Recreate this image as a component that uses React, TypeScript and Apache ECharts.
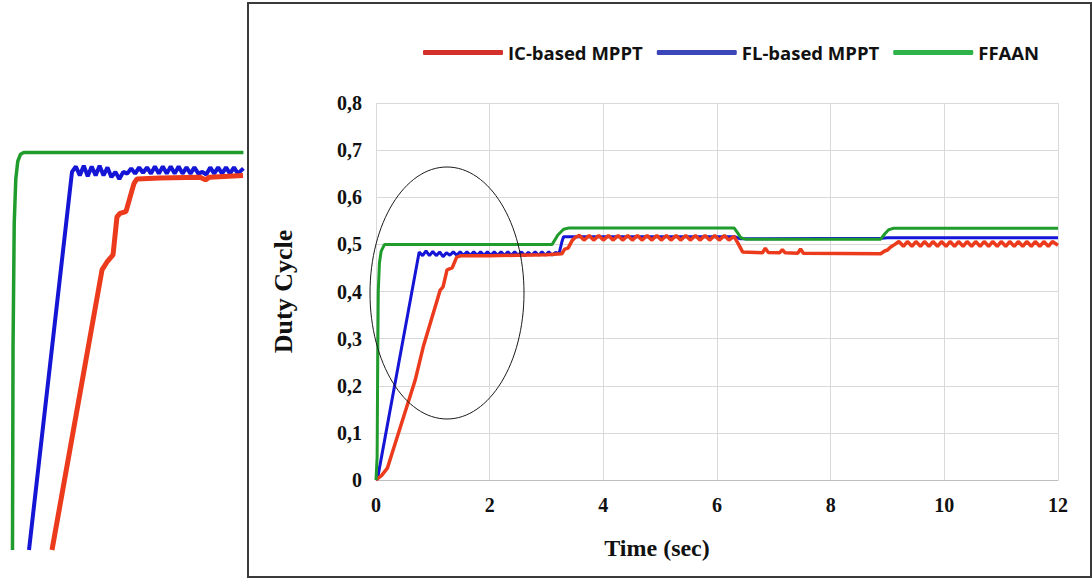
import React, { useEffect, useRef } from 'react';
import * as echarts from 'echarts';

const seriesNames = ['IC-based MPPT', 'FL-based MPPT', 'FFAAN'];

// Main chart: [time (sec), duty cycle]
const icBasedMppt: [number, number][] = [
  [0, 0], [0.1, 0.01], [0.2, 0.025], [0.69, 0.212], [0.83, 0.282], [1.13, 0.403], [1.18, 0.41],
  [1.25, 0.446], [1.34, 0.45], [1.42, 0.473], [1.5, 0.476], [2.0, 0.476], [2.5, 0.477], [3.0, 0.478],
  [3.27, 0.48], [3.32, 0.49], [3.38, 0.492], [3.45, 0.508], [3.5, 0.514],
  [3.58, 0.519], [3.66, 0.509], [3.75, 0.519], [3.83, 0.509], [3.92, 0.519], [4.0, 0.509],
  [4.09, 0.519], [4.17, 0.509], [4.26, 0.519], [4.34, 0.509], [4.43, 0.519], [4.51, 0.509],
  [4.6, 0.519], [4.68, 0.509], [4.77, 0.519], [4.85, 0.509], [4.94, 0.519], [5.02, 0.509],
  [5.11, 0.519], [5.19, 0.509], [5.28, 0.519], [5.36, 0.509], [5.45, 0.519], [5.53, 0.509],
  [5.62, 0.519], [5.7, 0.509], [5.79, 0.519], [5.87, 0.509], [5.96, 0.519], [6.04, 0.509],
  [6.13, 0.519], [6.21, 0.509], [6.3, 0.517],
  [6.38, 0.5], [6.45, 0.484], [6.8, 0.482], [6.85, 0.492], [6.9, 0.483], [7.1, 0.482], [7.15, 0.489],
  [7.2, 0.482], [7.42, 0.481], [7.47, 0.49], [7.52, 0.481], [8.88, 0.48], [8.95, 0.486], [9.0, 0.488],
  [9.05, 0.494], [9.13, 0.5],
  [9.2, 0.506], [9.28, 0.496], [9.35, 0.506], [9.43, 0.496], [9.5, 0.506], [9.58, 0.496],
  [9.65, 0.506], [9.73, 0.496], [9.8, 0.506], [9.88, 0.496], [9.95, 0.506], [10.03, 0.496],
  [10.1, 0.506], [10.18, 0.496], [10.25, 0.506], [10.33, 0.496], [10.4, 0.506], [10.48, 0.496],
  [10.55, 0.506], [10.63, 0.496], [10.7, 0.506], [10.78, 0.496], [10.85, 0.506], [10.93, 0.496],
  [11.0, 0.506], [11.08, 0.496], [11.15, 0.506], [11.23, 0.496], [11.3, 0.506], [11.38, 0.496],
  [11.45, 0.506], [11.53, 0.496], [11.6, 0.506], [11.68, 0.496], [11.75, 0.506], [11.83, 0.496],
  [11.9, 0.506], [12.0, 0.498],
];

const flBasedMppt: [number, number][] = [
  [0, 0], [0.03, 0.005], [0.76, 0.484],
  [0.82, 0.476], [0.88, 0.486], [0.94, 0.476], [1.0, 0.485], [1.06, 0.476], [1.12, 0.484],
  [1.18, 0.474], [1.24, 0.482], [1.3, 0.477], [1.36, 0.484], [1.42, 0.477], [1.48, 0.484],
  [1.54, 0.477], [1.6, 0.484], [1.66, 0.477], [1.72, 0.484], [1.78, 0.477], [1.84, 0.484],
  [1.9, 0.477], [1.96, 0.484], [2.02, 0.477], [2.08, 0.484], [2.14, 0.477], [2.2, 0.484],
  [2.26, 0.477], [2.32, 0.484], [2.38, 0.477], [2.44, 0.484], [2.5, 0.477], [2.56, 0.484],
  [2.62, 0.476], [2.68, 0.483], [2.74, 0.477], [2.8, 0.484], [2.86, 0.477], [2.92, 0.484],
  [2.98, 0.477], [3.04, 0.484], [3.1, 0.477], [3.16, 0.483], [3.22, 0.48],
  [3.27, 0.505], [3.3, 0.516], [6.32, 0.516], [6.4, 0.512], [8.9, 0.513], [9.0, 0.514], [12, 0.514],
];

const ffaan: [number, number][] = [
  [0, 0], [0.02, 0.05], [0.03, 0.25], [0.04, 0.4], [0.06, 0.46], [0.09, 0.485], [0.15, 0.5],
  [3.1, 0.5], [3.2, 0.52], [3.3, 0.532], [3.4, 0.535], [6.3, 0.535], [6.36, 0.525], [6.42, 0.514],
  [6.5, 0.511], [8.88, 0.511], [8.95, 0.522], [9.02, 0.531], [9.1, 0.534], [12, 0.534],
];

// Zoomed inset (left side): [time, duty cycle]
const insetIc: [number, number][] = [
  [0.658, 0.05], [1.291, 0.367], [1.354, 0.376], [1.43, 0.384], [1.48, 0.427], [1.518, 0.431],
  [1.594, 0.433], [1.67, 0.457], [1.696, 0.465], [1.734, 0.47], [2.02, 0.471], [2.53, 0.472],
  [2.6, 0.469], [2.65, 0.472], [3.075, 0.474],
];

const insetFl: [number, number][] = [
  [0.367, 0.05], [0.911, 0.478],
  [0.96, 0.484], [1.01, 0.474], [1.06, 0.485], [1.11, 0.473], [1.16, 0.484], [1.21, 0.474],
  [1.26, 0.485], [1.31, 0.474], [1.36, 0.483], [1.41, 0.472], [1.46, 0.478], [1.51, 0.47],
  [1.56, 0.478], [1.61, 0.476], [1.66, 0.482], [1.71, 0.476], [1.76, 0.483], [1.81, 0.477],
  [1.86, 0.483], [1.91, 0.476], [1.96, 0.484], [2.01, 0.476], [2.06, 0.484], [2.11, 0.476],
  [2.16, 0.484], [2.21, 0.476], [2.26, 0.484], [2.31, 0.476], [2.36, 0.483], [2.41, 0.476],
  [2.46, 0.483], [2.51, 0.476], [2.56, 0.478], [2.61, 0.475], [2.66, 0.483], [2.71, 0.476],
  [2.76, 0.483], [2.81, 0.476], [2.86, 0.483], [2.91, 0.476], [2.96, 0.483], [3.01, 0.476],
  [3.08, 0.482],
];

const insetFfaan: [number, number][] = [
  [0.158, 0.05], [0.165, 0.28], [0.18, 0.42], [0.2, 0.47], [0.225, 0.49], [0.26, 0.498],
  [0.3, 0.5], [3.08, 0.5],
];

const RED = '#ec3b1c';
const BLUE = '#1515d6';
const GREEN = '#1f9c2c';

export default function App() {
  const ref = useRef<HTMLDivElement>(null);

  useEffect(() => {
    const chart = echarts.init(ref.current as HTMLDivElement, null, { renderer: 'svg' });
    const serif = 'Liberation Serif';
    const labelStyle = { fontFamily: serif, fontWeight: 'bold', fontSize: 20, color: '#111' };
    chart.setOption({
      animation: false,
      backgroundColor: '#ffffff',
      textStyle: { fontFamily: serif },
      legend: {
        left: 418,
        top: 38,
        itemWidth: 80,
        itemHeight: 5,
        itemGap: 14,
        icon: 'roundRect',
        textStyle: { fontFamily: 'Open Sans', fontWeight: 'bold', fontSize: 18.5, color: '#111' },
        data: [
          { name: seriesNames[0], itemStyle: { color: '#d3302c' } },
          { name: seriesNames[1], itemStyle: { color: '#3b46b8' } },
          { name: seriesNames[2], itemStyle: { color: '#2db34a' } },
        ],
      },
      grid: [
        { left: 376, right: 34, top: 103, bottom: 99 },
        { left: 0, top: 148, width: 245, height: 402 },
      ],
      xAxis: [
        {
          type: 'value', gridIndex: 0, min: 0, max: 12, interval: 2,
          axisLine: { lineStyle: { color: '#bfbfbf', width: 1 } },
          axisTick: { show: false },
          axisLabel: {
            margin: 15, ...labelStyle,
            formatter: (v: number) => `{s|${v}}`,
            rich: { s: labelStyle },
          },
          splitLine: { lineStyle: { color: '#d9d9d9', width: 1 } },
        },
        { type: 'value', gridIndex: 1, min: 0, max: 3.1, show: false, splitLine: { show: false } },
      ],
      yAxis: [
        {
          type: 'value', gridIndex: 0, min: 0, max: 0.8, interval: 0.1,
          name: 'Duty Cycle', nameLocation: 'middle', nameGap: 80,
          nameTextStyle: { fontFamily: serif, fontWeight: 'bold', fontSize: 26, color: '#111' },
          axisLine: { show: false },
          axisTick: { show: false },
          axisLabel: {
            margin: 14, ...labelStyle,
            formatter: (v: number) => `{s|${v === 0 ? '0' : v.toFixed(1).replace('.', ',')}}`,
            rich: { s: labelStyle },
          },
          splitLine: { lineStyle: { color: '#d9d9d9', width: 1 } },
        },
        { type: 'value', gridIndex: 1, min: 0.05, max: 0.505, show: false, splitLine: { show: false } },
      ],
      series: [
        { name: seriesNames[1], type: 'line', data: flBasedMppt, showSymbol: false, color: BLUE, lineStyle: { width: 3, color: BLUE }, z: 2 },
        { name: seriesNames[0], type: 'line', data: icBasedMppt, showSymbol: false, color: RED, lineStyle: { width: 3.5, color: RED }, z: 3 },
        { name: seriesNames[2], type: 'line', data: ffaan, showSymbol: false, color: GREEN, lineStyle: { width: 3, color: GREEN }, z: 4 },
        { name: 'inset-fl', type: 'line', xAxisIndex: 1, yAxisIndex: 1, data: insetFl, showSymbol: false, lineStyle: { width: 4, color: BLUE }, z: 2 },
        { name: 'inset-ic', type: 'line', xAxisIndex: 1, yAxisIndex: 1, data: insetIc, showSymbol: false, lineStyle: { width: 5, color: RED }, z: 3 },
        { name: 'inset-ffaan', type: 'line', xAxisIndex: 1, yAxisIndex: 1, data: insetFfaan, showSymbol: false, lineStyle: { width: 3.5, color: GREEN }, z: 4 },
      ],
      graphic: [
        { type: 'rect', shape: { x: 248, y: 3, width: 843, height: 574 }, style: { fill: 'none', stroke: '#3a3a3a', lineWidth: 2 }, z: 10 },
        { type: 'ellipse', shape: { cx: 447, cy: 293, rx: 77, ry: 126 }, style: { fill: 'none', stroke: '#1a1a1a', lineWidth: 1 }, z: 10 },
        { type: 'text', x: 657, y: 548, style: { text: 'Time (sec)', fontFamily: serif, fontWeight: 'bold', fontSize: 24, fill: '#111', textAlign: 'center', textVerticalAlign: 'middle' }, z: 10 },
      ],
    });
    return () => chart.dispose();
  }, []);

  return <div ref={ref} style={{ position: 'absolute', left: 0, top: 0, width: 1092, height: 579, background: '#fff' }} />;
}
